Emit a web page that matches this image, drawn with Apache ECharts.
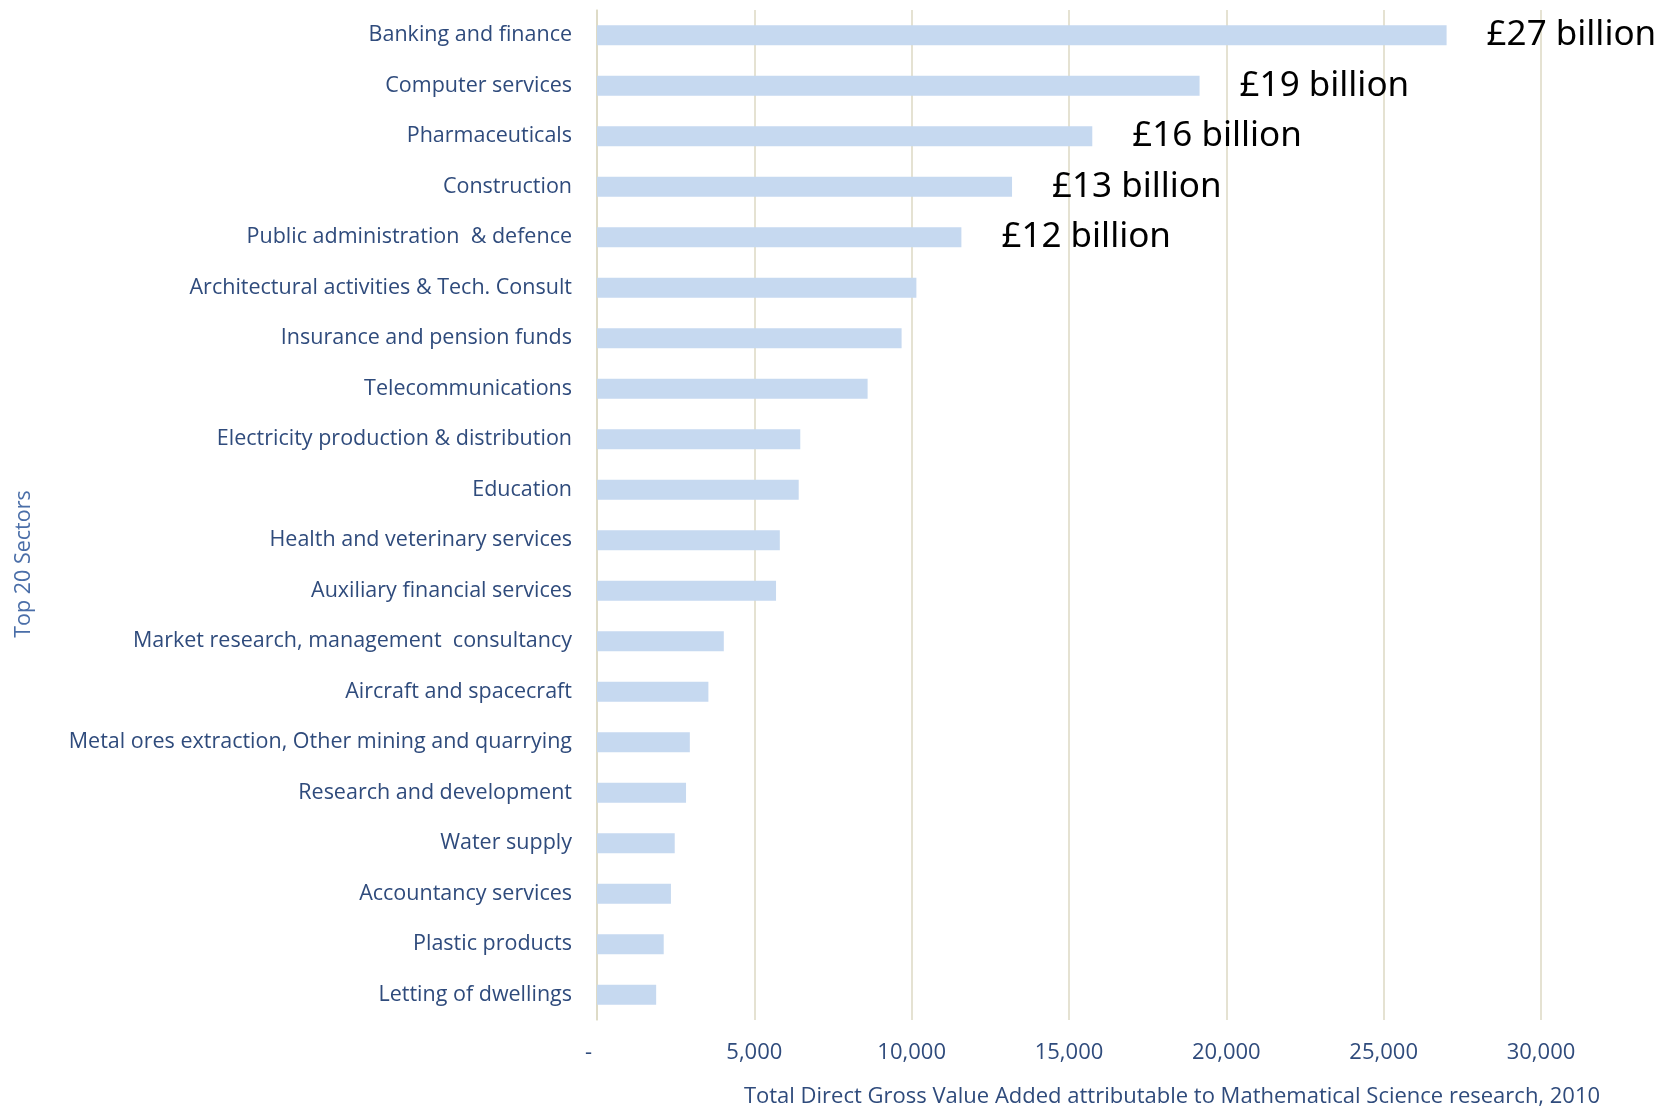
<!DOCTYPE html>
<html>
<head>
<meta charset="utf-8">
<title>Top 20 Sectors</title>
<script src="https://cdn.jsdelivr.net/npm/echarts@6/dist/echarts.min.js"></script>
<style>
  html, body { margin: 0; padding: 0; background: #fff; }
  #chart { width: 1670px; height: 1108px; }
</style>
</head>
<body>
<div id="chart"></div>
<script>
// sectors, top to bottom
var sectors = [
  'Banking and finance',
  'Computer services',
  'Pharmaceuticals',
  'Construction',
  'Public administration  & defence',
  'Architectural activities & Tech. Consult',
  'Insurance and pension funds',
  'Telecommunications',
  'Electricity production & distribution',
  'Education',
  'Health and veterinary services',
  'Auxiliary financial services',
  'Market research, management  consultancy',
  'Aircraft and spacecraft',
  'Metal ores extraction, Other mining and quarrying',
  'Research and development',
  'Water supply',
  'Accountancy services',
  'Plastic products',
  'Letting of dwellings'
];
// £ million
var gva = [27000, 19150, 15740, 13190, 11580, 10150, 9680, 8600, 6460, 6410,
           5810, 5690, 4030, 3540, 2950, 2830, 2470, 2350, 2120, 1880];
var billionLabels = ['£27 billion', '£19 billion', '£16 billion', '£13 billion', '£12 billion'];
var xTicks = [0, 5000, 10000, 15000, 20000, 25000, 30000];

var labelColor = '#2F4B7C';
var gridColor = '#DDD9C3';

var myChart = echarts.init(document.getElementById('chart'));
var options = {
  animation: false,
  grid: {
    left: 597,
    right: 129,
    top: 10,
    bottom: 88,
    outerBoundsMode: 'none'
  },
  xAxis: {
    type: 'value',
    min: xTicks[0],
    max: xTicks[xTicks.length - 1],
    interval: 5000,
    name: 'Total Direct Gross Value Added attributable to Mathematical Science research, 2010',
    nameLocation: 'middle',
    nameGap: 66,
    nameTextStyle: {
      color: labelColor,
      fontFamily: 'Open Sans',
      fontSize: 22,
      padding: [0, 0, 0, 206]
    },
    axisLine: { show: false },
    axisTick: { show: false },
    axisLabel: {
      color: labelColor,
      fontFamily: 'Open Sans',
      fontSize: 22,
      margin: 22,
      formatter: function (v) {
        return v === 0 ? '-   ' : v.toLocaleString('en-GB');
      }
    },
    splitLine: {
      show: true,
      lineStyle: { color: gridColor, width: 1.5 }
    }
  },
  yAxis: {
    type: 'category',
    inverse: true,
    data: sectors,
    name: 'Top 20 Sectors',
    nameLocation: 'middle',
    nameGap: 562,
    nameTextStyle: {
      color: '#4A6EA8',
      fontFamily: 'Open Sans',
      fontSize: 21.5,
      padding: [0, 98, 0, 0]
    },
    axisLine: { show: true, lineStyle: { color: gridColor, width: 1.5 } },
    axisTick: { show: false },
    axisLabel: {
      color: labelColor,
      fontFamily: 'Open Sans',
      fontSize: 21.5,
      margin: 25,
      padding: [3, 0, 0, 0]
    }
  },
  series: [
    {
      type: 'bar',
      data: gva,
      barWidth: 20,
      itemStyle: { color: '#C6D9F0' },
      label: {
        show: true,
        position: 'right',
        distance: 40,
        color: '#000',
        fontFamily: 'Noto Sans',
        fontSize: 35,
        padding: [4, 0, 0, 0],
        formatter: function (p) {
          return billionLabels[p.dataIndex] || '';
        }
      }
    }
  ]
};
myChart.setOption(options);
</script>
</body>
</html>
